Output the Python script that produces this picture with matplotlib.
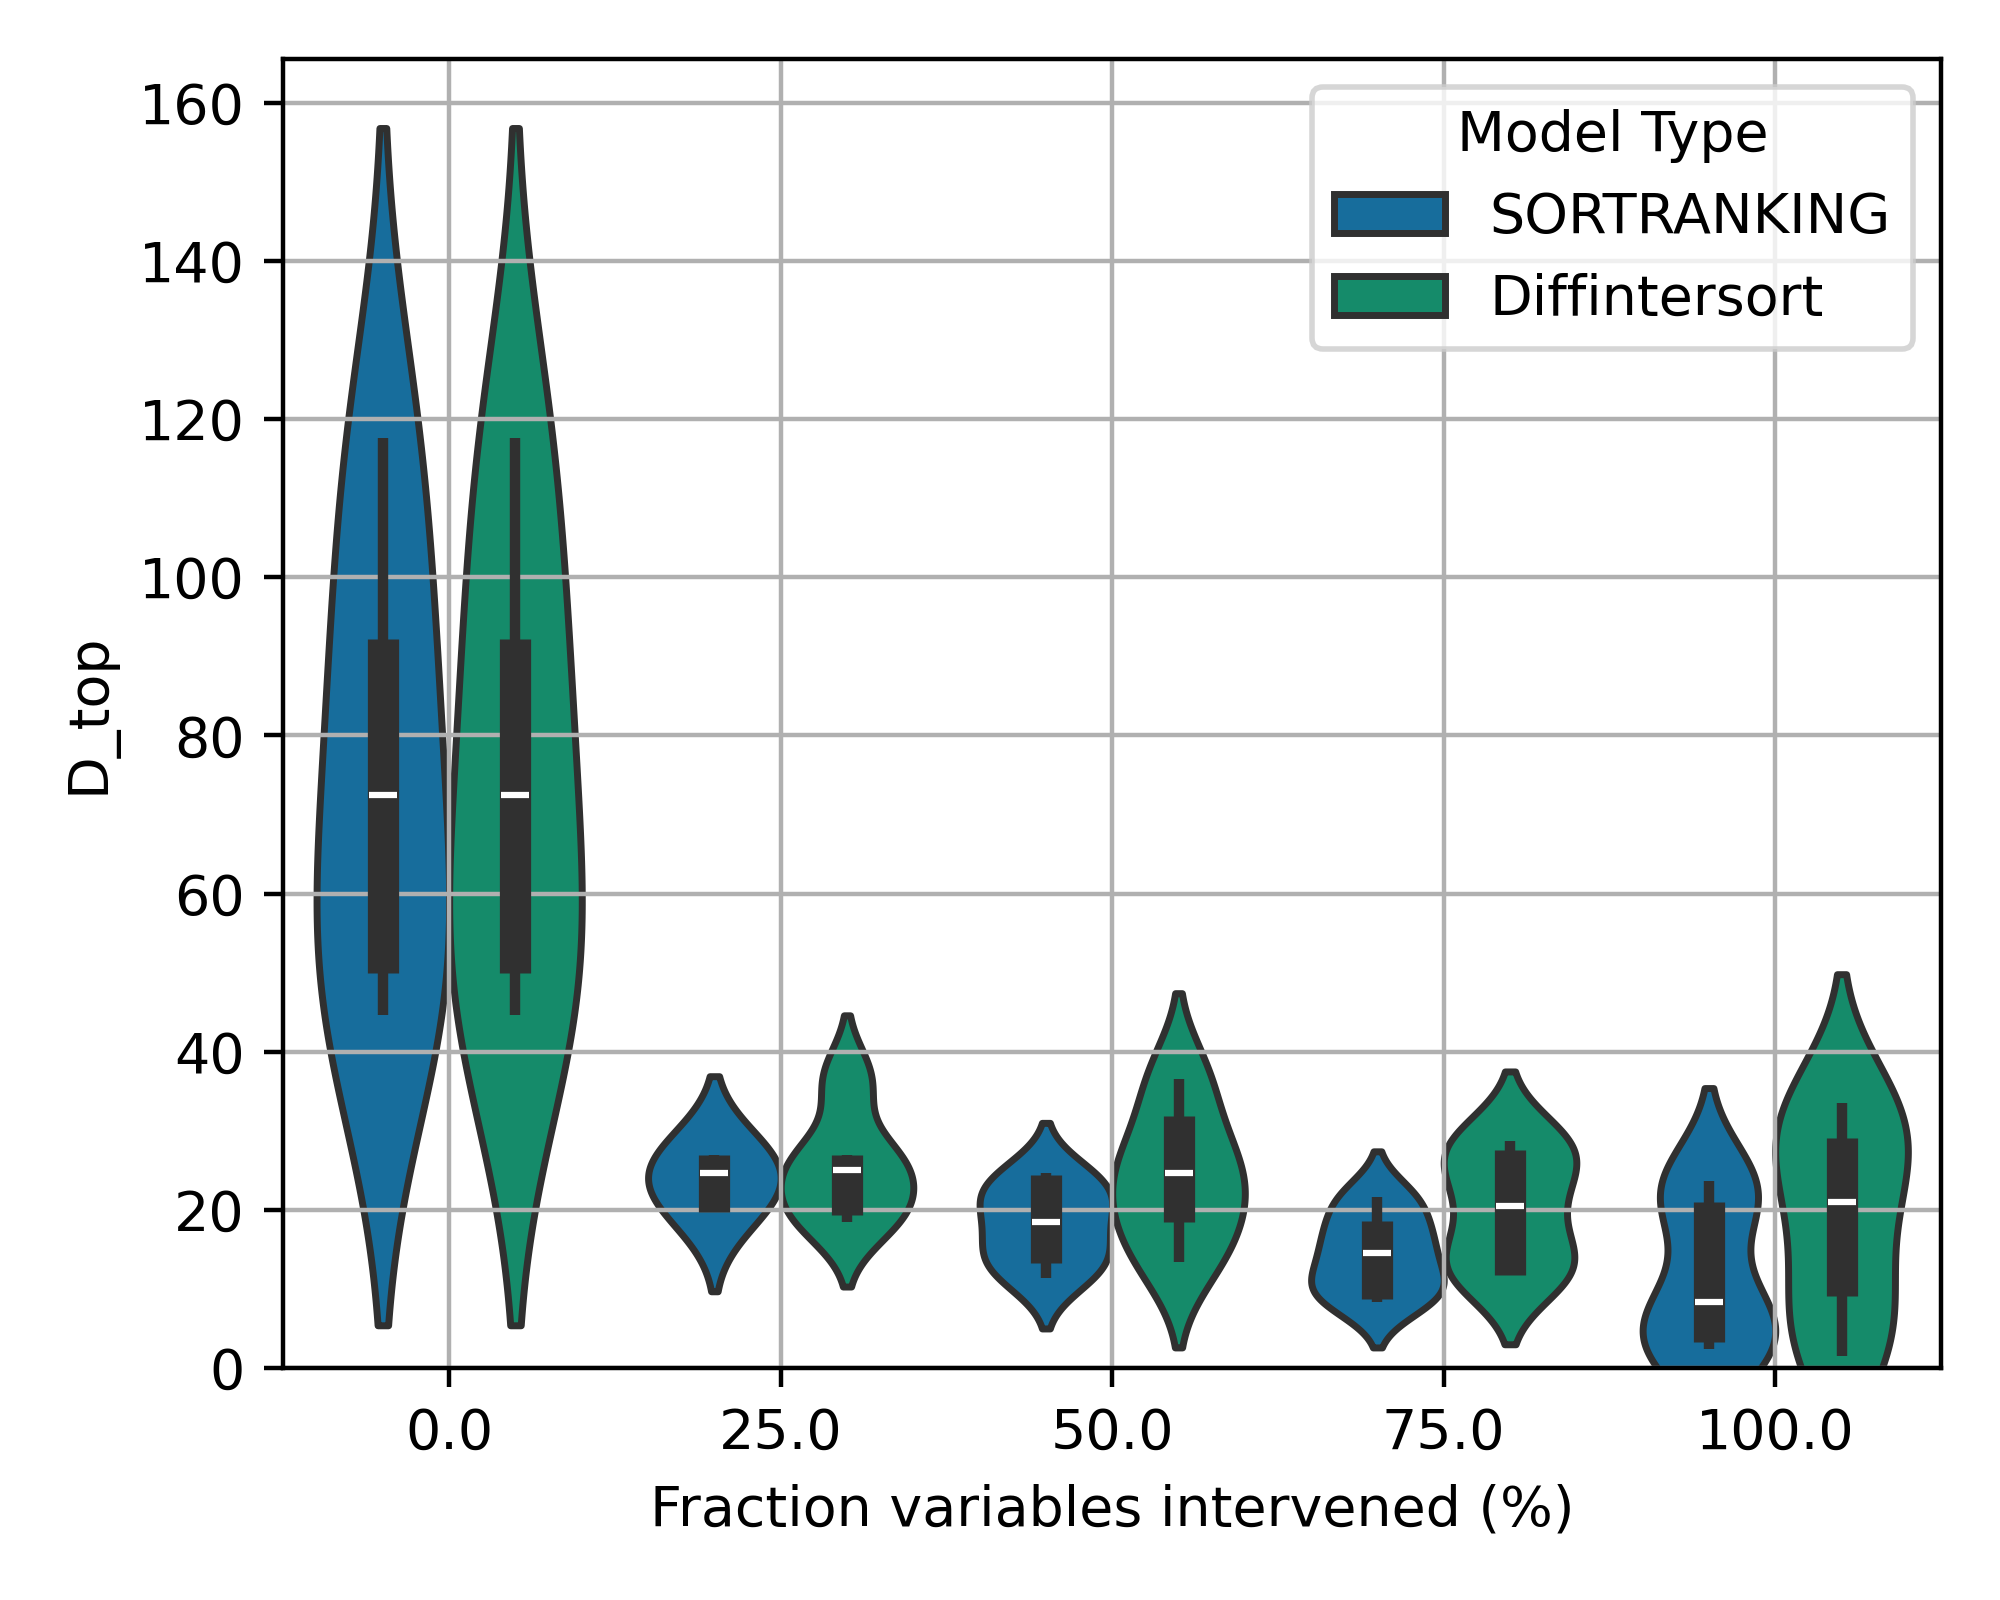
import colorsys
import numpy as np
import matplotlib
matplotlib.use("Agg")
import matplotlib.pyplot as plt
from matplotlib.patches import Patch

# ---------------- data ----------------
fractions = ["0.0", "25.0", "50.0", "75.0", "100.0"]
models = ["SORTRANKING", "Diffintersort"]

# observations behind each violin's density, one list per fraction
obs_sortranking = [
    [44.6, 49.9, 72.5, 92.2, 117.6],
    [19.7, 21.5, 24.6, 26.5, 26.9],
    [11.8, 13.5, 16.5, 20.0, 22.5, 24.2],
    [8.4, 10.5, 14.0, 17.5, 21.6],
    [2.4, 3.3, 8.4, 21.0, 23.6],
]
obs_diffintersort = [
    [44.6, 49.9, 72.5, 92.2, 117.6],
    [18.4, 20.5, 25.0, 26.9, 36.5],
    [13.4, 19.0, 23.5, 28.0, 36.6],
    [11.8, 13.5, 20.5, 26.5, 28.7],
    [1.5, 9.1, 21.0, 29.1, 33.5],
]
# kernel bandwidth of each violin
bw_sortranking = [19.6, 5.0, 3.4, 2.9, 5.9]
bw_diffintersort = [19.6, 4.05, 5.4, 4.4, 8.15]

# inner box statistics
q1_sortranking = [49.9, 19.7, 13.3, 8.7, 3.3]
med_sortranking = [72.5, 24.6, 18.5, 14.6, 8.4]
q3_sortranking = [92.2, 26.9, 24.4, 18.6, 21.0]
wlo_sortranking = [44.6, 19.7, 11.4, 8.4, 2.4]
whi_sortranking = [117.6, 26.9, 24.6, 21.6, 23.6]

q1_diffintersort = [49.9, 19.3, 18.5, 11.8, 9.1]
med_diffintersort = [72.5, 25.0, 24.6, 20.5, 21.0]
q3_diffintersort = [92.2, 26.9, 31.9, 27.6, 29.1]
wlo_diffintersort = [44.6, 18.4, 13.4, 11.8, 1.5]
whi_diffintersort = [117.6, 26.9, 36.6, 28.7, 33.5]

# ---------------- styling ----------------
def desaturate(hexcol, prop):
    rgb = matplotlib.colors.to_rgb(hexcol)
    h, l, s = colorsys.rgb_to_hls(*rgb)
    return colorsys.hls_to_rgb(h, l, s * prop)

colors = [desaturate("#0173b2", 0.75), desaturate("#029e73", 0.75)]
edge = "#303030"
lw = 1.25
box_w = lw * 4.5

series = {
    "SORTRANKING": dict(obs=obs_sortranking, bw=bw_sortranking,
                        q1=q1_sortranking, med=med_sortranking, q3=q3_sortranking,
                        wlo=wlo_sortranking, whi=whi_sortranking),
    "Diffintersort": dict(obs=obs_diffintersort, bw=bw_diffintersort,
                          q1=q1_diffintersort, med=med_diffintersort, q3=q3_diffintersort,
                          wlo=wlo_diffintersort, whi=whi_diffintersort),
}

fig, ax = plt.subplots(figsize=(5, 4), dpi=400)
fig.subplots_adjust(left=0.1417, right=0.9705, bottom=0.145, top=0.963)

half_max = 0.2
for j, model in enumerate(models):
    s = series[model]
    offset = (j - 0.5) * 0.4
    for i in range(len(fractions)):
        pos = i + offset
        obs = np.asarray(s["obs"][i], dtype=float)
        bw = s["bw"][i]
        grid = np.linspace(obs.min() - 2 * bw, obs.max() + 2 * bw, 300)
        dens = np.exp(-0.5 * ((grid[:, None] - obs[None, :]) / bw) ** 2).sum(axis=1)
        hw = dens / dens.max() * half_max
        ax.fill_betweenx(grid, pos - hw, pos + hw, facecolor=colors[j],
                         edgecolor=edge, linewidth=lw, zorder=1)
        ax.plot([pos, pos], [s["wlo"][i], s["whi"][i]], color=edge,
                lw=box_w / 3, solid_capstyle="butt", zorder=2)
        ax.plot([pos, pos], [s["q1"][i], s["q3"][i]], color=edge,
                lw=box_w, solid_capstyle="butt", zorder=2)
        ax.plot([pos], [s["med"][i]], marker="_", color="white",
                markersize=box_w * 0.87, markeredgewidth=box_w / 5, zorder=3)

ax.set_xlim(-0.5, len(fractions) - 0.5)
ax.set_ylim(0, 165.5)
ax.set_xticks(range(len(fractions)))
ax.set_xticklabels(fractions)
ax.grid(True)
ax.set_xlabel("Fraction variables intervened (%)")
ax.set_ylabel("D_top")

handles = [Patch(facecolor=colors[j], edgecolor=edge, linewidth=lw, label=m)
           for j, m in enumerate(models)]
ax.legend(handles=handles, title="Model Type", loc="upper right")

fig.savefig("out.png", dpi=400)
